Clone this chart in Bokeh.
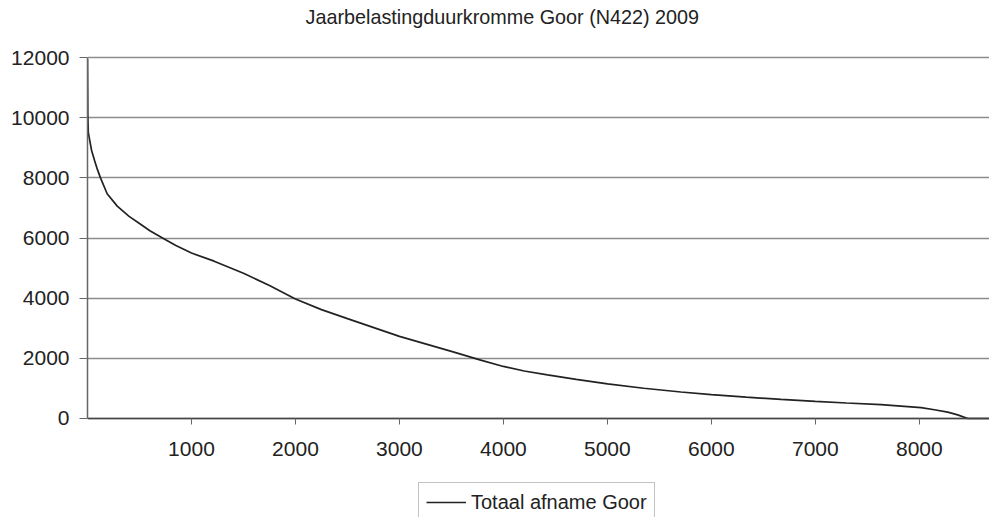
from bokeh.plotting import figure
from bokeh.models import Range1d, FixedTicker, Legend, LegendItem, Label
from bokeh.embed import file_html
from bokeh.resources import INLINE

title_text = "Jaarbelastingduurkromme Goor (N422) 2009"
series_name = "Totaal afname Goor"

hours = [0, 3, 8, 22, 40, 68, 95, 125, 189, 286, 400, 500, 600, 734, 850,
         1000, 1218, 1500, 1750, 2000, 2250, 2500, 3000, 3250, 3500, 3782,
         4000, 4200, 4424, 4700, 5002, 5350, 5707, 6000, 6335, 6670, 7000,
         7300, 7632, 8017, 8145, 8273, 8369, 8466, 8760]
load = [11950, 10100, 9500, 9240, 8900, 8580, 8280, 8000, 7470, 7060, 6720,
        6480, 6240, 5975, 5750, 5500, 5230, 4830, 4420, 3970, 3620, 3320,
        2730, 2480, 2230, 1940, 1730, 1580, 1450, 1300, 1150, 1005, 880, 795,
        710, 635, 570, 515, 460, 360, 290, 210, 120, 0, 0]

x_ticks = [1000, 2000, 3000, 4000, 5000, 6000, 7000, 8000]
y_ticks = [0, 2000, 4000, 6000, 8000, 10000, 12000]

FONT = "Liberation Sans"

p = figure(width=989, height=517, output_backend="svg", toolbar_location=None,
           x_range=Range1d(0, 8675), y_range=Range1d(-3291, 13895),
           min_border_left=87, min_border_right=0, min_border_top=0,
           min_border_bottom=0)
p.outline_line_color = None
p.background_fill_color = "white"

# grid
p.xgrid.grid_line_color = None
p.ygrid.ticker = FixedTicker(ticks=y_ticks)
p.ygrid.grid_line_color = "#8c8c8c"
p.ygrid.grid_line_width = 1.5

# axes
p.xaxis.ticker = FixedTicker(ticks=x_ticks)
p.yaxis.ticker = FixedTicker(ticks=y_ticks)
p.yaxis.bounds = (0, 12000)
p.xaxis.fixed_location = 0
for ax in (p.xaxis[0], p.yaxis[0]):
    ax.major_label_text_font = FONT
    ax.major_label_text_font_size = "21px"
    ax.major_label_text_color = "#222222"
    ax.minor_tick_line_color = None
    ax.major_tick_in = 0
p.xaxis.axis_line_color = "#444444"
p.xaxis.axis_line_width = 1.5
p.xaxis.major_tick_line_color = "#666666"
p.xaxis.major_tick_out = 6
p.xaxis.major_label_standoff = 18
p.yaxis.axis_line_color = "#666666"
p.yaxis.axis_line_width = 1.5
p.yaxis.major_tick_line_color = "#666666"
p.yaxis.major_tick_out = 8
p.yaxis.major_label_standoff = 10

r = p.line(hours, load, line_color="#222222", line_width=1.7)

title = Label(x=218, y=501, x_units="screen", y_units="screen",
              text=title_text, text_font=FONT, text_font_size="19.8px",
              text_color="#222222", text_baseline="alphabetic",
              text_align="left")
p.add_layout(title)

legend = Legend(items=[LegendItem(label=series_name, renderers=[r])],
                location=(331, -5))
legend.label_text_font = FONT
legend.label_text_font_size = "20px"
legend.label_text_color = "#222222"
legend.border_line_color = "#888888"
legend.border_line_width = 1
legend.background_fill_alpha = 1.0
legend.padding = 7
legend.margin = 0
legend.label_height = 24
legend.glyph_height = 24
legend.glyph_width = 40
legend.label_standoff = 5
p.add_layout(legend)

open("out.html", "w").write(file_html(p, INLINE))
